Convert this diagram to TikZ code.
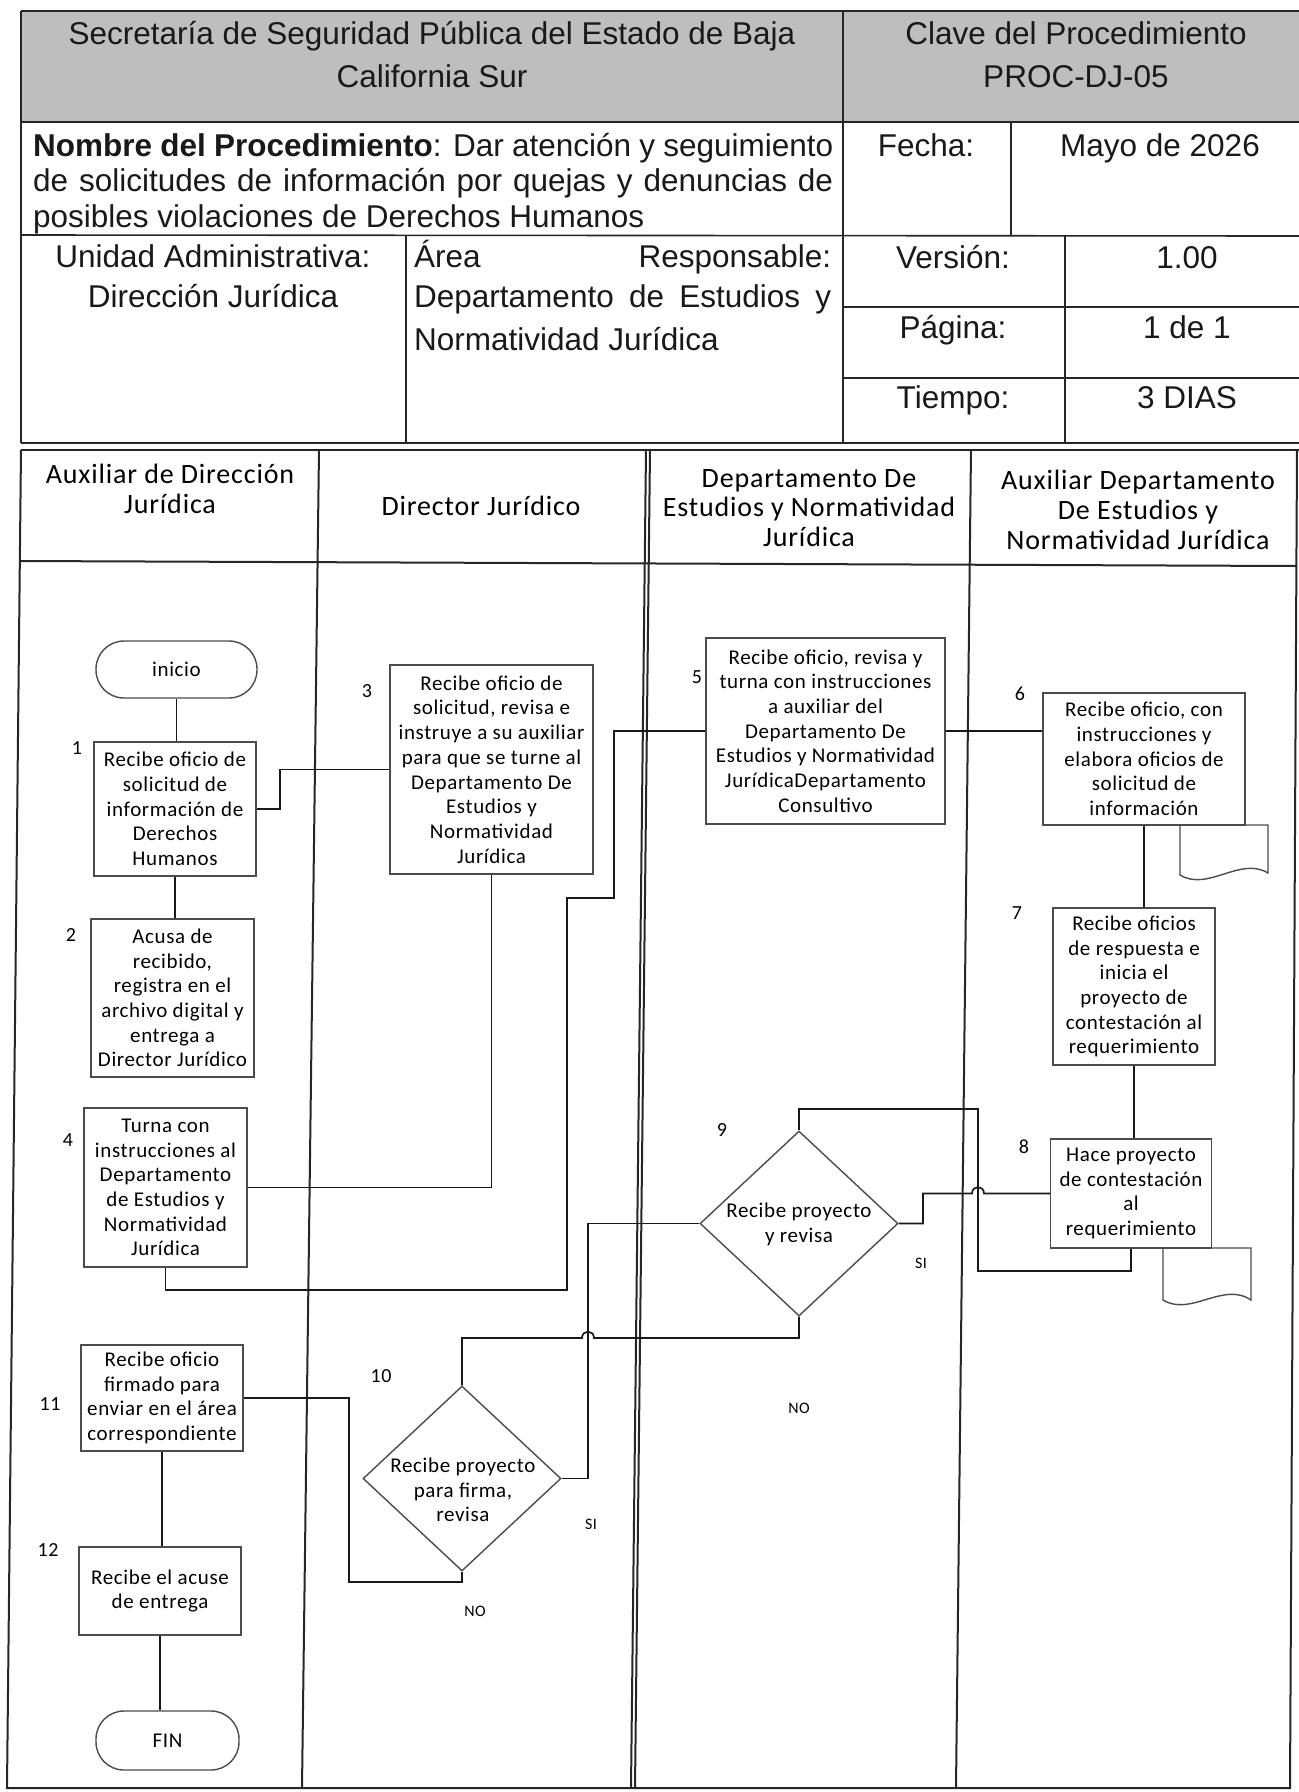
\documentclass[tikz,border=0pt]{standalone}
\usepackage{fontspec}
\setmainfont{Liberation Sans}
\newfontfamily\bodyfont{Carlito}[LetterSpace=3.0]
\usetikzlibrary{shapes.geometric}
\definecolor{headgray}{RGB}{190,190,190}

\begin{document}
\begin{tikzpicture}[x=1pt, y=-1pt,
  tabline/.style={line width=1.6pt, draw=black!85},
  lane/.style={line width=2pt, draw=black!85},
  procbox/.style={rectangle, draw=black!70, line width=1.4pt, fill=white, inner sep=1pt,
    align=center, text=black, font=\bodyfont\fontsize{21}{24.7}\selectfont},
  termbox/.style={procbox, rounded corners=28pt},
  decision/.style={diamond, draw=black!70, line width=1.4pt, fill=white, inner sep=0pt,
    minimum width=198pt, minimum height=185pt},
  dtext/.style={align=center, inner sep=0pt, text=black,
    font=\bodyfont\fontsize{21}{24.7}\selectfont},
  docshape/.style={draw=black!70, line width=1.4pt, fill=white},
  flow/.style={draw=black!90, line width=1.7pt},
  num/.style={inner sep=0pt, text=black, font=\bodyfont\fontsize{20}{20}\selectfont},
  yesno/.style={inner sep=0pt, text=black, font=\bodyfont\fontsize{16}{16}\selectfont},
  lanehead/.style={align=center, inner sep=0pt, text=black,
    font=\bodyfont\fontsize{28}{29.7}\selectfont},
  hdr/.style={anchor=base, inner sep=0pt, text=black!90, font=\fontsize{31.5}{36}\selectfont},
]
\useasboundingbox (0,0) rectangle (1299,1792);
\fill[white] (0,0) rectangle (1299,1792);

% ---------- header table ----------
\fill[headgray] (21,11) rectangle (1299,122);
\draw[tabline] (21,11) -- (1299,11);
\draw[tabline] (21,11) -- (21,443);
\draw[tabline] (21,122) -- (1299,122);
\draw[tabline] (843,11) -- (843,443);
\draw[tabline] (21,235) -- (1299,236);
\draw[tabline] (1011,122) -- (1011,236);
\draw[tabline] (406,235) -- (406,443);
\draw[tabline] (1065,236) -- (1065,443);
\draw[tabline] (843,307) -- (1299,307);
\draw[tabline] (843,378) -- (1299,378);
\draw[tabline] (21,443) -- (1299,443);

\node[hdr] (h1a) at (432,44) {Secretaría de Seguridad Pública del Estado de Baja};
\node[hdr] (h1b) at (432,87) {California Sur};
\node[hdr] (h2a) at (1076,44) {Clave del Procedimiento};
\node[hdr] (h2b) at (1076,87) {PROC-DJ-05};

\node[hdr, anchor=base west] (n1) at (33,156)
  {\makebox[800pt][s]{\textbf{Nombre del Procedimiento}: Dar atención y seguimiento}};
\node[hdr, anchor=base west] (n2) at (33,191.5)
  {\makebox[800pt][s]{de solicitudes de información por quejas y denuncias de}};
\node[hdr, anchor=base west] (n3) at (33,227) {posibles violaciones de Derechos Humanos};
\node[hdr] (fecha) at (926,156) {Fecha:};
\node[hdr] (mayo) at (1160,156) {Mayo de 2026};

\node[hdr] (ua1) at (213,267) {Unidad Administrativa:};
\node[hdr] (ua2) at (213,307) {Dirección Jurídica};
\node[hdr, anchor=base west] (ar1) at (414,267) {\makebox[417pt][s]{Área Responsable:}};
\node[hdr, anchor=base west] (ar2) at (414,307) {\makebox[417pt][s]{Departamento de Estudios y}};
\node[hdr, anchor=base west] (ar3) at (414,350) {Normatividad Jurídica};
\node[hdr] (ver1) at (953,268) {Versión:};
\node[hdr] (ver2) at (1187,268) {1.00};
\node[hdr] (pag1) at (953,338) {Página:};
\node[hdr] (pag2) at (1187,338) {1 de 1};
\node[hdr] (tie1) at (953,408) {Tiempo:};
\node[hdr] (tie2) at (1187,408) {3 DIAS};

% ---------- swimlanes ----------
\draw[lane] (21,450) -- (1299,450);
\draw[lane] (21,450) -- (7,1788) -- (1290,1788) -- (1297,450);
\draw[lane] (20,561) -- (1297,566);
\draw[lane] (319,450) -- (302,1788);
\draw[lane] (646,450) -- (631,1788);
\draw[lane] (650,450) -- (635,1788);
\draw[lane] (971,450) -- (956,1788);

\node[lanehead] (lh1) at (170,489) {Auxiliar de Dirección\\Jurídica};
\node[lanehead] (lh2) at (481,506) {Director Jurídico};
\node[lanehead] (lh3) at (809,508) {Departamento De\\Estudios y Normatividad\\Jurídica};
\node[lanehead] (lh4) at (1138,510) {Auxiliar Departamento\\De Estudios y\\Normatividad Jurídica};

% ---------- documents (drawn under their boxes) ----------
\draw[docshape] (1180,825) -- (1180,875) .. controls (1208,892) and (1240,856) .. (1268,873)
  -- (1268,825) -- cycle;
\draw[docshape] (1163,1248) -- (1163,1300) .. controls (1191,1317) and (1223,1281) .. (1251,1300)
  -- (1251,1248) -- cycle;

% ---------- steps ----------
\node[termbox, minimum width=161pt, minimum height=57pt] (ini) at (176.5,669.5) {inicio};
\node[procbox, minimum width=162pt, minimum height=134pt] (b1) at (175,809)
  {Recibe oficio de\\solicitud de\\información de\\Derechos\\Humanos};
\node[procbox, minimum width=163pt, minimum height=158pt] (b2) at (172.5,998)
  {Acusa de\\recibido,\\registra en el\\archivo digital y\\entrega a\\Director Jurídico};
\node[procbox, minimum width=203pt, minimum height=209pt] (b3) at (491.5,769.5)
  {Recibe oficio de\\solicitud, revisa e\\instruye a su auxiliar\\para que se turne al\\Departamento De\\Estudios y\\Normatividad\\Jurídica};
\node[procbox, minimum width=163pt, minimum height=159pt] (b4) at (165.5,1187.5)
  {Turna con\\instrucciones al\\Departamento\\de Estudios y\\Normatividad\\Jurídica};
\node[procbox, minimum width=239pt, minimum height=186pt] (b5) at (825.5,731)
  {Recibe oficio, revisa y\\turna con instrucciones\\a auxiliar del\\Departamento De\\Estudios y Normatividad\\JurídicaDepartamento\\Consultivo};
\node[procbox, minimum width=202pt, minimum height=132pt] (b6) at (1144,759)
  {Recibe oficio, con\\instrucciones y\\elabora oficios de\\solicitud de\\información};
\node[procbox, minimum width=162pt, minimum height=157pt] (b7) at (1134,986.5)
  {Recibe oficios\\de respuesta e\\inicia el\\proyecto de\\contestación al\\requerimiento};
\node[procbox, minimum width=161pt, minimum height=109pt] (b8) at (1131,1193.5)
  {Hace proyecto\\de contestación\\al\\requerimiento};
\node[decision] (d9) at (799,1223.5) {};
\node[dtext] (d9t) at (799,1224.5) {Recibe proyecto\\y revisa};
\node[decision] (d10) at (462,1478.5) {};
\node[dtext] (d10t) at (463,1490) {Recibe proyecto\\para firma,\\revisa};
\node[procbox, minimum width=162pt, minimum height=106pt] (b11) at (162,1398)
  {Recibe oficio\\firmado para\\enviar en el área\\correspondiente};
\node[procbox, minimum width=162pt, minimum height=88pt] (b12) at (160,1591)
  {Recibe el acuse\\de entrega};
\node[termbox, minimum width=143pt, minimum height=59pt] (fin) at (167.5,1740.5) {FIN};

% ---------- step numbers and answers ----------
\node[num] (s1) at (77,748) {1};
\node[num] (s2) at (71,935) {2};
\node[num] (s3) at (367,691) {3};
\node[num] (s4) at (68,1140) {4};
\node[num] (s5) at (697,677) {5};
\node[num] (s6) at (1020,694) {6};
\node[num] (s7) at (1017,913) {7};
\node[num] (s8) at (1024,1147) {8};
\node[num] (s9) at (722,1130) {9};
\node[num] (s10) at (381,1376) {10};
\node[num] (s11) at (50,1404) {11};
\node[num] (s12) at (48,1550) {12};
\node[yesno] (si9) at (921,1263) {SI};
\node[yesno] (no9) at (799,1408) {NO};
\node[yesno] (si10) at (591,1524) {SI};
\node[yesno] (no10) at (475,1611) {NO};

% ---------- connectors ----------
\draw[flow] (ini.south) -- (ini.south |- b1.north);
\draw[flow] (b1.south) -- (b1.south |- b2.north);
\draw[flow] (b1.east) -- (280,809) -- (280,769.5) -- (b3.west);
\draw[flow] (b3.south) |- (b4.east);
\draw[flow] (b4.south) |- (567,1290) -- (567,898) -- (614,898) |- (b5.west);
\draw[flow] (b5.east) -- (b5.east -| b6.west);
\draw[flow] (b6.south) -- (b6.south |- b7.north);
\draw[flow] (b7.south) -- (b7.south |- b8.north);
\draw[flow] (b8.west) -- (984,1193.5) .. controls (984,1185) and (972,1185) .. (972,1193.5)
  -- (923,1193.5) |- (d9.east);
\draw[flow] (b8.south) |- (978,1271) -- (978,1109) -| (d9.north);
\draw[flow] (d9.west) -- (588,1223.5) |- (d10.east);
\draw[flow] (d9.south) |- (594,1338) .. controls (594,1329.5) and (582,1329.5) .. (582,1338)
  -| (d10.north);
\draw[flow] (d10.south) |- (349,1582) |- (b11.east);
\draw[flow] (b11.south) -- (b11.south |- b12.north);
\draw[flow] (b12.south) -- (b12.south |- fin.north);
\end{tikzpicture}
\end{document}
